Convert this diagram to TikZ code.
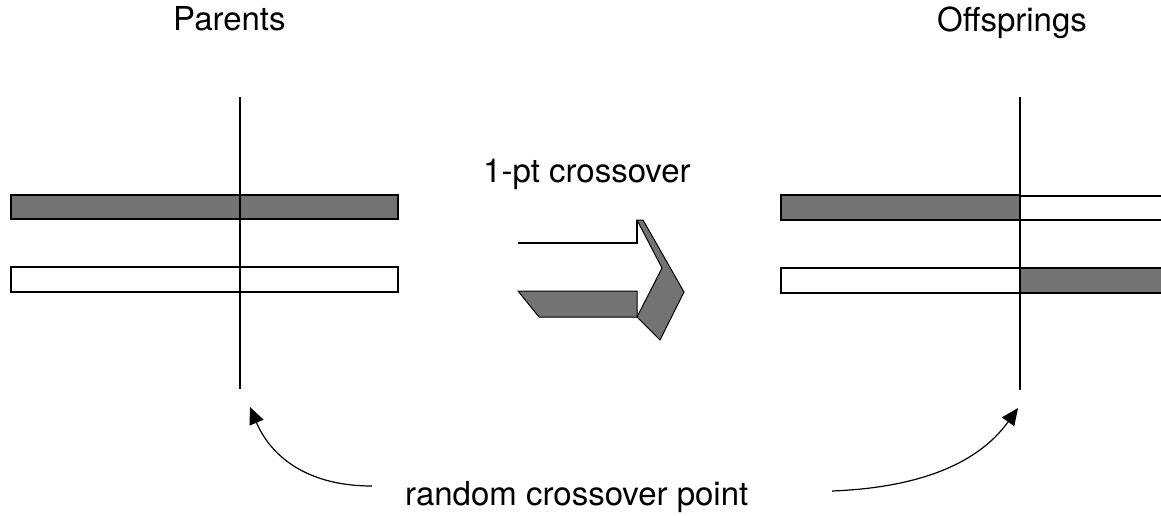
\documentclass[tikz,border=0pt]{standalone}
\usepackage{fontspec}
\setmainfont{TeX Gyre Heros}
\usetikzlibrary{arrows.meta}
\definecolor{chromgray}{gray}{0.45}
\begin{document}
\begin{tikzpicture}[x=1pt,y=-1pt,
  txt/.style={inner sep=0pt, anchor=base west, font=\fontsize{33}{40}\selectfont},
  chrom/.style={draw=black, line width=1.4pt},
  filledchrom/.style={chrom, fill=chromgray},
  cutline/.style={line width=2pt},
  pointer/.style={line width=1.2pt, -{Triangle[length=17pt,width=15pt]}},
  blockdark/.style={fill=chromgray, draw=black, line width=1pt}]
\useasboundingbox (0,0) rectangle (1161,516);
\fill[white] (0,0) rectangle (1161,516);

% titles
\node[txt] (parents) at (173,31) {Parents};
\node[txt] (offspring) at (937,32) {Offsprings};
\node[txt] (op) at (483,182) {1-pt crossover};
\node[txt] (point) at (405,505) {random crossover point};

% parent chromosomes
\filldraw[filledchrom] (11,195) rectangle (398,219);
\draw[chrom] (11,267) rectangle (398,292);

% offspring chromosomes: head of one parent, tail of the other
\filldraw[filledchrom] (781,195) rectangle (1020,220);
\draw[chrom] (1020,196) -- (1161,196) (1020,220) -- (1161,220);
\draw[chrom] (781,268) rectangle (1020,293);
\fill[chromgray] (1020,268) rectangle (1161,293);
\draw[chrom] (1020,268) -- (1161,268) (1020,293) -- (1161,293);

% crossover cut lines
\coordinate (lcutTop) at (240,97);
\coordinate (lcutBot) at (240,389);
\coordinate (rcutTop) at (1020,97);
\coordinate (rcutBot) at (1020,390);
\draw[cutline] (lcutTop) -- (lcutBot);
\draw[cutline] (rcutTop) -- (rcutBot);

% block arrow between the two stages
\draw[line width=1.2pt] (518,243) -- (637,243) -- (637,220);
\filldraw[blockdark] (518,291) -- (637,291) -- (637,317) -- (539,317) -- cycle;
\filldraw[blockdark] (637,220) -- (643,220) -- (684,292) -- (660,340)
  -- (637,317) -- (662,268) -- cycle;

% pointers to the cut positions
\coordinate (lstart) at (372,486);
\coordinate (ltip) at (250,407);
\coordinate (rstart) at (832,491);
\coordinate (rtip) at (1018,408);
\draw[pointer] (lstart) .. controls (300,486) and (268,450) .. (ltip);
\draw[pointer] (rstart) .. controls (910,488) and (975,468) .. (rtip);
\end{tikzpicture}
\end{document}
